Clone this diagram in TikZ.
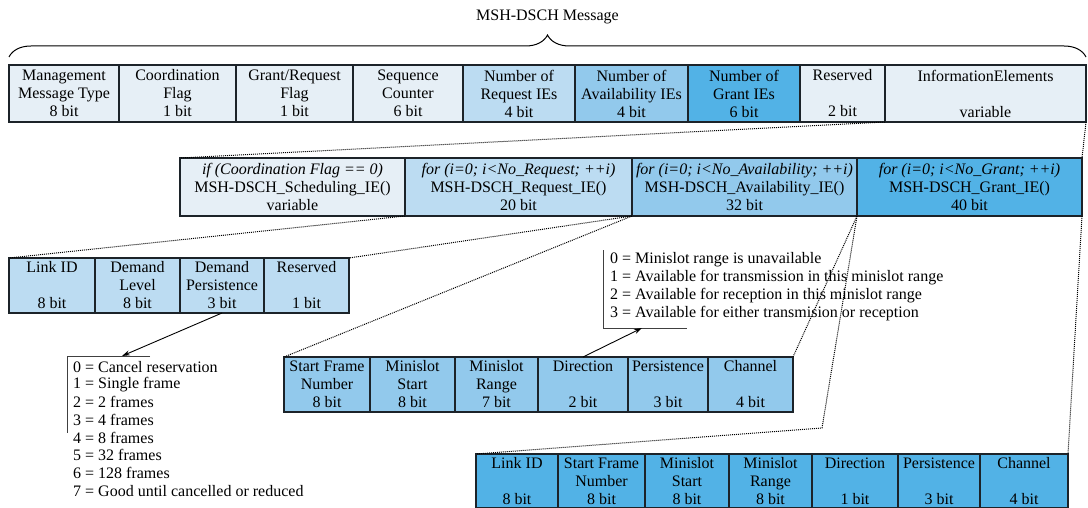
\documentclass[tikz,border=0pt]{standalone}
\usepackage{fontspec}
\setmainfont{Liberation Serif}
\usetikzlibrary{positioning,arrows.meta,decorations.pathreplacing}

\definecolor{framecol}{HTML}{1C2329}
\definecolor{pale}{HTML}{E6EFF6}
\definecolor{reqcol}{HTML}{BCDCF2}
\definecolor{availcol}{HTML}{92C9EC}
\definecolor{grantcol}{HTML}{52B2E6}

\tikzset{
  fld/.style={draw=framecol, line width=1.8pt, inner sep=0pt, outer sep=0pt,
    align=center, minimum height=55pt, font=\fontsize{16}{18}\selectfont},
  link/.style={densely dotted, line width=1pt},
  pointer/.style={-{Stealth[length=8pt,width=5pt]}, line width=0.9pt},
  rule/.style={line width=0.9pt, draw=black!75},
  item/.style={anchor=west, inner sep=0pt, font=\fontsize{16}{18}\selectfont},
}

\begin{document}
\begin{tikzpicture}[x=1pt,y=-1pt]
\useasboundingbox (0,0) rectangle (1088,508);

% top row
\node[fld, fill=pale, minimum height=57pt, minimum width=110pt, anchor=north west] (mmt) at (9,65) {Management\\Message Type\\8 bit};
\node[fld, fill=pale, minimum height=57pt, minimum width=117pt, right=0pt of mmt] (cflag) {Coordination\\Flag\\1 bit};
\node[fld, fill=pale, minimum height=57pt, minimum width=117pt, right=0pt of cflag] (grflag) {Grant/Request\\Flag\\1 bit};
\node[fld, fill=pale, minimum height=57pt, minimum width=110pt, right=0pt of grflag] (seqcnt) {Sequence\\Counter\\6 bit};
\node[fld, fill=reqcol, minimum height=57pt, minimum width=112pt, right=0pt of seqcnt] (nreq) {Number of\\Request IEs\\4 bit};
\node[fld, fill=availcol, minimum height=57pt, minimum width=113pt, right=0pt of nreq] (navail) {Number of\\Availability IEs\\4 bit};
\node[fld, fill=grantcol, minimum height=57pt, minimum width=112pt, right=0pt of navail] (ngrant) {Number of\\Grant IEs\\6 bit};
\node[fld, fill=pale, minimum height=57pt, minimum width=85pt, right=0pt of ngrant] (resv) {Reserved\\\mbox{}\\2 bit};
\node[fld, fill=pale, minimum height=57pt, minimum width=201pt, right=0pt of resv] (infoel) {InformationElements\\\mbox{}\\variable};

\node[font=\fontsize{16}{18}\selectfont] (title) at (547.5,17) {MSH-DSCH Message};
\draw[line width=1pt, decorate, decoration={brace, amplitude=22pt}]
  ([yshift=8pt]mmt.north west) -- ([yshift=8pt]infoel.north east);

% information elements
\node[fld, fill=pale, minimum height=58pt, minimum width=225pt, anchor=north west] (sched) at (180,158) {\textit{if (Coordination Flag == 0)}\\MSH-DSCH\_Scheduling\_IE()\\variable};
\node[fld, fill=reqcol, minimum height=58pt, minimum width=227pt, right=0pt of sched] (reqie) {\textit{for (i=0; i<No\_Request; ++i)}\\MSH-DSCH\_Request\_IE()\\20 bit};
\node[fld, fill=availcol, minimum height=58pt, minimum width=225pt, right=0pt of reqie] (availie) {\textit{for (i=0; i<No\_Availability; ++i)}\\MSH-DSCH\_Availability\_IE()\\32 bit};
\node[fld, fill=grantcol, minimum height=58pt, minimum width=225pt, right=0pt of availie] (grantie) {\textit{for (i=0; i<No\_Grant; ++i)}\\MSH-DSCH\_Grant\_IE()\\40 bit};

% request IE
\node[fld, fill=reqcol, minimum width=86pt, anchor=north west] (rlink) at (9,258) {Link ID\\\mbox{}\\8 bit};
\node[fld, fill=reqcol, minimum width=85pt, right=0pt of rlink] (dlevel) {Demand\\Level\\8 bit};
\node[fld, fill=reqcol, minimum width=84pt, right=0pt of dlevel] (dpers) {Demand\\Persistence\\3 bit};
\node[fld, fill=reqcol, minimum width=85pt, right=0pt of dpers] (rresv) {Reserved\\\mbox{}\\1 bit};

% availability IE
\node[fld, fill=availcol, minimum width=86pt, anchor=north west] (sfn) at (284,357) {Start Frame\\Number\\8 bit};
\node[fld, fill=availcol, minimum width=85pt, right=0pt of sfn] (msstart) {Minislot\\Start\\8 bit};
\node[fld, fill=availcol, minimum width=83pt, right=0pt of msstart] (msrange) {Minislot\\Range\\7 bit};
\node[fld, fill=availcol, minimum width=90pt, right=0pt of msrange] (dir) {Direction\\\mbox{}\\2 bit};
\node[fld, fill=availcol, minimum width=80pt, right=0pt of dir] (pers) {Persistence\\\mbox{}\\3 bit};
\node[fld, fill=availcol, minimum width=85pt, right=0pt of pers] (chan) {Channel\\\mbox{}\\4 bit};

% grant IE
\node[fld, fill=grantcol, minimum height=54pt, minimum width=82pt, anchor=north west] (glink) at (476,454) {Link ID\\\mbox{}\\8 bit};
\node[fld, fill=grantcol, minimum height=54pt, minimum width=87pt, right=0pt of glink] (gsfn) {Start Frame\\Number\\8 bit};
\node[fld, fill=grantcol, minimum height=54pt, minimum width=84pt, right=0pt of gsfn] (gmss) {Minislot\\Start\\8 bit};
\node[fld, fill=grantcol, minimum height=54pt, minimum width=83pt, right=0pt of gmss] (gmsr) {Minislot\\Range\\8 bit};
\node[fld, fill=grantcol, minimum height=54pt, minimum width=86pt, right=0pt of gmsr] (gdir) {Direction\\\mbox{}\\1 bit};
\node[fld, fill=grantcol, minimum height=54pt, minimum width=82pt, right=0pt of gdir] (gpers) {Persistence\\\mbox{}\\3 bit};
\node[fld, fill=grantcol, minimum height=54pt, minimum width=88pt, right=0pt of gpers] (gchan) {Channel\\\mbox{}\\4 bit};

% expansions
\coordinate (gbend) at (822,428);
\draw[link] (infoel.south west) -- (sched.north west);
\draw[link] (infoel.south east) -- (grantie.north east);
\draw[link] (reqie.south west) -- (rlink.north west);
\draw[link] (reqie.south east) -- (rresv.north east);
\draw[link] (availie.south west) -- (sfn.north west);
\draw[link] (availie.south east) -- (chan.north east);
\draw[link] (grantie.south west) -- (gbend) -- (glink.north west);
\draw[link] (grantie.south east) -- (gchan.north east);

% persistence values
\node[item] (p0) at (73,367) {0 = Cancel reservation};
\node[item] (p1) at (73,385) {1 = Single frame};
\node[item] (p2) at (73,402) {2 = 2 frames};
\node[item] (p3) at (73,420) {3 = 4 frames};
\node[item] (p4) at (73,438) {4 = 8 frames};
\node[item] (p5) at (73,455) {5 = 32 frames};
\node[item] (p6) at (73,473) {6 = 128 frames};
\node[item] (p7) at (73,491) {7 = Good until cancelled or reduced};
\draw[rule] (150,356) -- (67,356) -- (67,433);
\coordinate (ptip) at (122,356);
\draw[pointer] (dpers.south) -- (ptip);

% direction values
\node[item] (d0) at (610,260) {0 = Minislot range is unavailable};
\node[item] (d1) at (610,278) {1 = Available for transmission in this minislot range};
\node[item] (d2) at (610,296) {2 = Available for reception in this minislot range};
\node[item] (d3) at (610,314) {3 = Available for either transmision or reception};
\draw[rule] (603,250) -- (603,328) -- (687,328);
\coordinate (dtip) at (642,328);
\draw[pointer] (dir.north) -- (dtip);
\end{tikzpicture}
\end{document}
